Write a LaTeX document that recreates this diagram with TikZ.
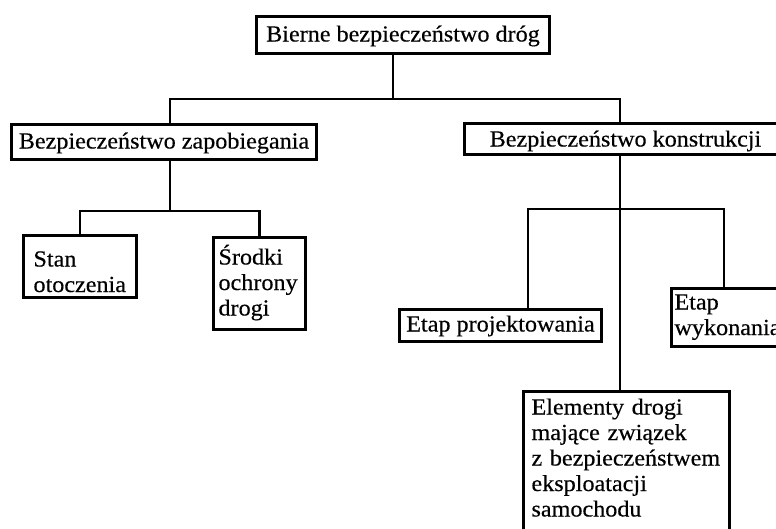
\documentclass[tikz,border=0pt]{standalone}
\usepackage{fontspec}
\setmainfont{Liberation Serif}[FakeStretch=1.05, FakeBold=0.4]
\begin{document}
\begin{tikzpicture}[x=1pt, y=-1pt,
    box/.style={draw, line width=3pt, anchor=north west, inner ysep=0pt, align=left,
        font=\fontsize{23}{25.5}\selectfont},
    link/.style={line width=2.8pt}]
    \useasboundingbox (0,0) rectangle (776,528);
    \clip (0,0) rectangle (776,528);

    %boxes
    \node[box, align=center, minimum width=293pt, text height=25pt, text depth=12pt] (bierne) at (255,15) {Bierne bezpieczeństwo dróg};
    \node[box, align=center, minimum width=305pt, text height=24pt, text depth=11pt] (zap) at (10,123) {Bezpieczeństwo zapobiegania};
    \node[box, align=center, minimum width=322pt, text height=23pt, text depth=8pt] (kon) at (463,122) {Bezpieczeństwo konstrukcji};
    \node[box, inner xsep=10pt, text width=93pt, minimum width=113pt, text height=31pt, text depth=31pt] (stan) at (22,234) {Stan\\otoczenia};
    \node[box, inner xsep=5pt, text width=82pt, minimum width=92pt, text height=27pt, text depth=65pt] (srodki) at (212,236) {Środki\\ochrony\\drogi};
    \node[box, align=center, minimum width=202pt, text height=22pt, text depth=10pt] (proj) at (398,308) {Etap projektowania};
    \node[box, inner xsep=3pt, text width=109pt, minimum width=115pt, text height=21pt, text depth=37pt] (wyk) at (670,287) {Etap\\wykonania};
    \node[box, inner xsep=8pt, text width=190pt, minimum width=206pt, text height=23pt, text depth=132pt] (elem) at (522,390) {Elementy drogi\\mające związek\\z bezpieczeństwem\\eksploatacji\\samochodu};

    %junctions
    \coordinate (top) at (393,99);
    \coordinate (jl) at (170,99);
    \coordinate (jr) at (620,99);
    \coordinate (jzap) at (170,211);
    \coordinate (jkon) at (620,209);
    \coordinate (jproj) at (528,209);
    \coordinate (jwyk) at (724,209);

    %links
    \draw[link] (bierne.south-|top) -- (top);
    \draw[link] (zap.north-|jl) -- (jl) -- (jr) -- (kon.north-|jr);
    \draw[link] (zap.south-|jzap) -- (jzap);
    \draw[link] (stan.north) -- (stan.north|-jzap) -- (srodki.north|-jzap) -- (srodki.north);
    \draw[link] (kon.south-|jkon) -- (elem.north-|jkon);
    \draw[link] (proj.north-|jproj) -- (jproj) -- (jwyk) -- (wyk.north-|jwyk);
\end{tikzpicture}
\end{document}
